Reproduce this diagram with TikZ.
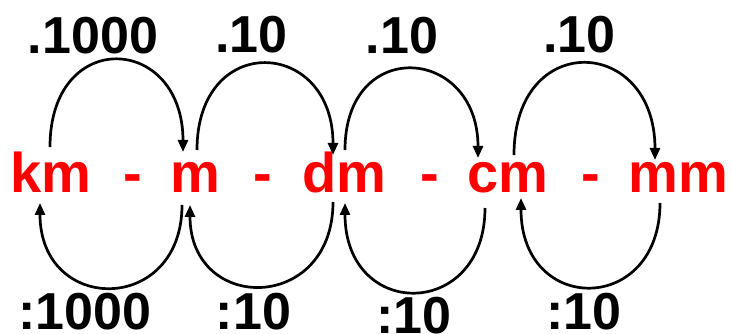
\documentclass[tikz,border=0pt]{standalone}
\usepackage{fontspec}
\setmainfont{Liberation Sans}
\usetikzlibrary{arrows.meta}
\tikzset{
  unit/.style={text=red, font=\fontsize{56}{60}\selectfont\bfseries, anchor=base, inner sep=0pt},
  factor/.style={text=black, font=\fontsize{52}{56}\selectfont\bfseries, anchor=base, inner sep=0pt},
  arc/.style={line width=2.7pt, -{Triangle[length=12pt,width=10pt]}}
}
\begin{document}
\begin{tikzpicture}[x=1pt,y=-1pt]
\useasboundingbox (0,0) rectangle (732,334);
% units
\node[unit] (km) at (50.5,193) {km};
\node[unit] (d1) at (132.5,193) {-};
\node[unit] (m)  at (195.5,193) {m};
\node[unit] (d2) at (262.5,193) {-};
\node[unit] (dm) at (344,193) {dm};
\node[unit] (d3) at (430,193) {-};
\node[unit] (cm) at (507.5,193) {cm};
\node[unit] (d4) at (590.5,193) {-};
\node[unit] (mm) at (678.5,193) {mm};
% factors
\node[factor] (t1) at (93,54) {.1000};
\node[factor] (t2) at (251.5,53) {.10};
\node[factor] (t3) at (402,54) {.10};
\node[factor] (t4) at (579.5,53) {.10};
\node[factor] (b1) at (85,330) {:1000};
\node[factor] (b2) at (253.5,330) {:10};
\node[factor] (b3) at (414,334) {:10};
\node[factor] (b4) at (584,330) {:10};
% top arcs
\draw[arc] ([shift={(-0.5,-46)}]km.base) .. controls +(0,-120) and +(0,-118) .. ([shift={(-12.5,-41)}]m.base);
\draw[arc] ([shift={(1.5,-43)}]m.base) .. controls +(0,-119) and +(0,-117) .. ([shift={(-11,-38)}]dm.base);
\draw[arc] ([shift={(1,-43)}]dm.base) .. controls +(0,-114) and +(0,-112) .. ([shift={(-29.5,-35)}]cm.base);
\draw[arc] ([shift={(6.5,-38)}]cm.base) .. controls +(0,-126) and +(0,-124) .. ([shift={(-23.5,-33)}]mm.base);
% bottom arcs
\draw[arc] ([shift={(-13.5,12)}]m.base) .. controls +(0,110) and +(0,112) .. ([shift={(-10.5,10)}]km.base);
\draw[arc] ([shift={(-11,9)}]dm.base) .. controls +(0,111) and +(0,109) .. ([shift={(-5.5,12)}]m.base);
\draw[arc] ([shift={(-22.5,15)}]cm.base) .. controls +(0,112) and +(0,118) .. ([shift={(1,10)}]dm.base);
\draw[arc] ([shift={(-18.5,10)}]mm.base) .. controls +(0,112) and +(0,118) .. ([shift={(13.5,5)}]cm.base);
\end{tikzpicture}
\end{document}
